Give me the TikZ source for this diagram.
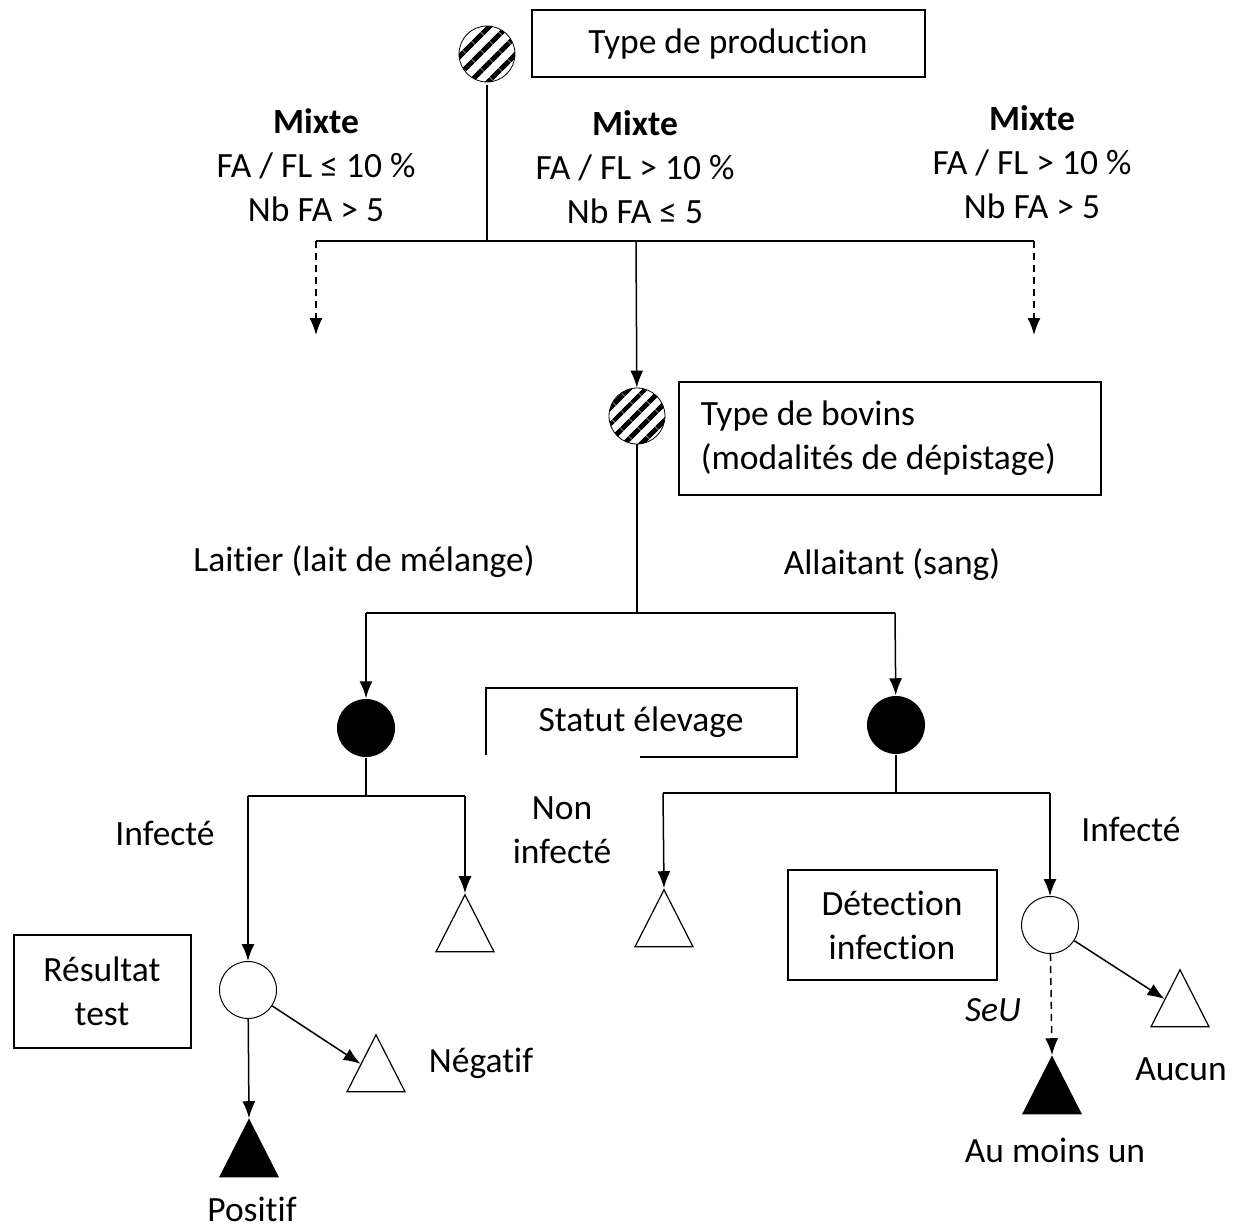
\documentclass[tikz,border=0pt]{standalone}
\usepackage{fontspec}
\setmainfont{Carlito}[Ligatures=NoCommon]
\usetikzlibrary{arrows.meta,patterns.meta,shapes.geometric}

\tikzset{
  txt/.style={font=\fontsize{35.5}{44}\selectfont, inner sep=0pt, align=center},
  hatched/.style={circle, draw, line width=0.8pt, minimum size=56pt, inner sep=0pt,
    pattern={Lines[angle=45,distance=13pt,line width=5.5pt]}},
  chance/.style={circle, draw, line width=1pt, minimum size=57pt, inner sep=0pt},
  decision/.style={circle, fill=black, minimum size=58pt, inner sep=0pt},
  leaf/.style={isosceles triangle, isosceles triangle stretches, shape border rotate=90,
    draw, line width=1.2pt, minimum width=58pt, minimum height=57pt, inner sep=0pt},
  labelbox/.style={draw, line width=1.5pt, inner sep=0pt},
  dsh/.style={dash pattern=on 7pt off 5pt}
}

\begin{document}
\begin{tikzpicture}[x=1pt, y=-1pt, line width=1.5pt, >={Latex[length=17pt,width=13pt]}]
				\useasboundingbox (0,0) rectangle (1238,1230);
				% production type
				\node[hatched] (h1) at (487,54) {};
				\draw[labelbox] (532,10) rectangle (925,77);
				\node[txt] (tp) at (728,44) {Type de production};
				\node[txt] (mx1) at (316,165) {\textbf{Mixte}\\FA / FL ≤ 10 \%\\Nb FA > 5};
				\node[txt] (mx2) at (635,167) {\textbf{Mixte}\\FA / FL > 10 \%\\Nb FA ≤ 5};
				\node[txt] (mx3) at (1032,162) {\textbf{Mixte}\\FA / FL > 10 \%\\Nb FA > 5};
				
				\coordinate (j1) at (487,241);
				\coordinate (jL) at (316,241);
				\coordinate (jM) at (636,241);
				\coordinate (jR) at (1034,241);
				\coordinate (dL) at (316,335);
				\coordinate (dR) at (1034,335);
				\draw (h1) -- (j1);
				\draw (jL) -- (jR);
				\draw[->,dsh] (jL) -- (dL);
				\draw[->,dsh] (jR) -- (dR);
				
				% bovine type
				\node[hatched] (h2) at (637,416) {};
				\draw[->] (jM) -- (h2);
				\draw[labelbox] (679,382) rectangle (1101,495);
				\node[txt, align=left, anchor=west] (tb) at (700,438) {Type de bovins\\(modalités de dépistage)};
				\node[txt] (lait) at (364,562) {Laitier (lait de mélange)};
				\node[txt] (allt) at (892,565) {Allaitant (sang)};
				
				\coordinate (k1) at (637,613);
				\coordinate (kL) at (366,613);
				\coordinate (kR) at (895,613);
				\node[decision] (b1) at (366,728) {};
				\node[decision] (b2) at (896,725) {};
				\draw (h2) -- (k1);
				\draw (kL) -- (kR);
				\draw[->] (kL) -- (b1);
				\draw[->] (kR) -- (b2);
				
				% herd status
				\draw[line width=1.5pt] (486,755) -- (486,688) -- (797,688) -- (797,757) -- (640,757);
				\node[txt] (st) at (641,722) {Statut élevage};
				
				% dairy branch
				\coordinate (m1) at (366,796);
				\coordinate (mL) at (248,796);
				\coordinate (mR) at (465,796);
				\node[chance] (c1) at (248,990) {};
				\node[leaf] (t1) at (465,934) {};
				\draw (b1) -- (m1);
				\draw (mL) -- (mR);
				\draw[->] (mL) -- (c1);
				\draw[->] (mR) -- (t1.apex);
				\node[txt] (inf1) at (165,833) {Infecté};
				\node[txt] (ninf) at (562,830) {Non\\infecté};
				
				\draw[labelbox] (14,935) rectangle (191,1048);
				\node[txt] (rt) at (102,991) {Résultat\\test};
				\node[leaf, fill=black] (t2) at (249,1159) {};
				\node[leaf] (t3) at (376,1074) {};
				\draw[->] (c1) -- (t2.apex);
				\draw[->] (c1) -- (t3);
				\node[txt] (neg) at (481,1063) {Négatif};
				\node[txt] (pos) at (252,1209) {Positif};
				
				% suckler branch
				\coordinate (n1) at (896,793);
				\coordinate (nL) at (663,793);
				\coordinate (nR) at (1050,793);
				\node[leaf] (t4) at (664,929) {};
				\node[chance] (c2) at (1050,925) {};
				\draw (b2) -- (n1);
				\draw (nL) -- (nR);
				\draw[->] (nL) -- (t4.apex);
				\draw[->] (nR) -- (c2);
				\node[txt] (inf2) at (1131,829) {Infecté};
				
				\draw[labelbox] (788,870) rectangle (997,980);
				\node[txt] (det) at (892,925) {Détection\\infection};
				\node[leaf, fill=black] (t5) at (1052,1096) {};
				\node[leaf] (t6) at (1180,1009) {};
				\draw[->,dsh] (c2) -- (t5.apex);
				\draw[->] (c2) -- (t6);
				\node[txt] (seu) at (993,1010) {\textit{SeU}};
				\node[txt] (auc) at (1181,1069) {Aucun};
				\node[txt] (aum) at (1055,1150) {Au moins un};
		\end{tikzpicture}
\end{document}
